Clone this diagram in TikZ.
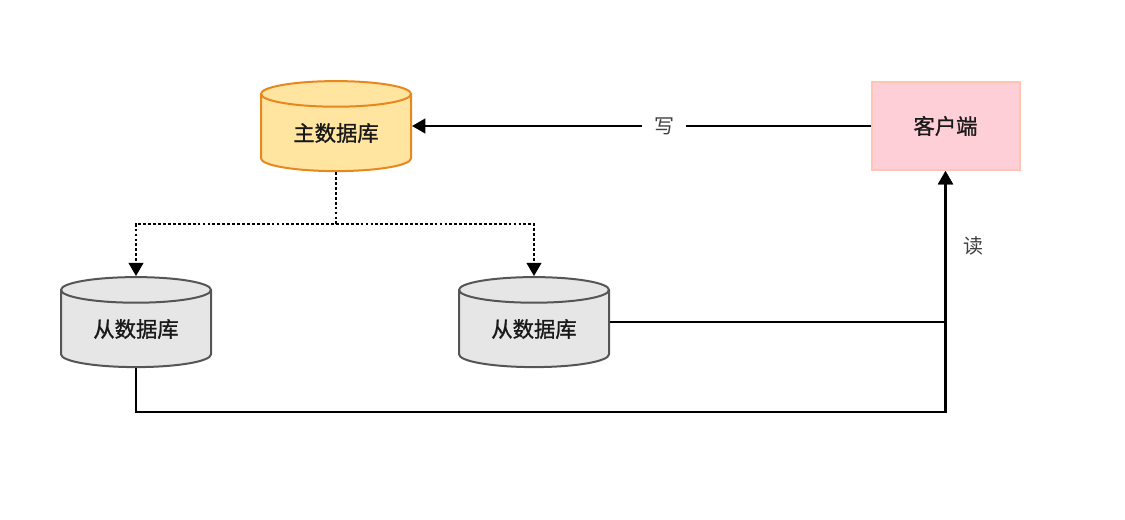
\documentclass[tikz,border=0pt]{standalone}
\usepackage{fontspec}
\newfontfamily\cjk{Noto Sans CJK SC}
\newfontfamily\cjkmed[FakeBold=1.2]{Noto Sans CJK SC}
\usetikzlibrary{shapes.geometric,arrows.meta,positioning}
\definecolor{masterfill}{HTML}{FFE5A0}
\definecolor{masterline}{HTML}{E8871E}
\definecolor{slavefill}{HTML}{E6E6E6}
\definecolor{slaveline}{HTML}{555555}
\definecolor{clientfill}{HTML}{FFCFD8}
\definecolor{clientline}{HTML}{FFC4B4}
\tikzset{
	db/.style={cylinder,shape border rotate=90,aspect=0.3,draw,line width=1.5pt,minimum width=112.5pt,minimum height=67.5pt,inner sep=0pt,font=\cjkmed\fontsize{16}{19}\selectfont,text=black!90},
	masterdb/.style={db,fill=masterfill,draw=masterline},
	slavedb/.style={db,fill=slavefill,draw=slaveline},
	client/.style={rectangle,fill=clientfill,draw=clientline,line width=1.5pt,minimum width=111pt,minimum height=66pt,font=\cjkmed\fontsize{16}{19}\selectfont,text=black!90},
	conn/.style={-{Triangle[width=11pt,length=10pt]},line width=1.7pt},
	syncedge/.style={conn,dash pattern=on 2.1pt off 1.6pt},
	edgelabel/.style={font=\cjk\fontsize{15}{18}\selectfont,text=black!75,fill=white,inner xsep=9pt}
}
\begin{document}
\begin{tikzpicture}[x=0.75pt,y=-0.75pt]
	\useasboundingbox (0,0) rectangle (1125,519);
	%%% databases and client
	\node[masterdb] (master) at (336,133) {主数据库};
	\node[slavedb] (slave1) at (136,329) {从数据库};
	\node[slavedb] (slave2) at (534,329) {从数据库};
	\node[client] (client) at (945.5,126) {客户端};
	%%% write
	\draw[conn] (client.west) -- node[edgelabel,pos=0.45] {写} (master.east |- client.west);
	%%% sync
	\coordinate (split) at (336,224);
	\draw[syncedge] (master.south) -- (split) -| (slave1.north);
	\draw[syncedge] (split) -| (slave2.north);
	%%% read
	\coordinate (readbus) at (136,412);
	\draw[conn] (slave2.east |- slave2.shape center) -| (client.south);
	\draw[conn] (slave1.south) -- (readbus) -| (client.south);
	\node[edgelabel,fill=none] (readlabel) at (973,246) {读};
\end{tikzpicture}
\end{document}
